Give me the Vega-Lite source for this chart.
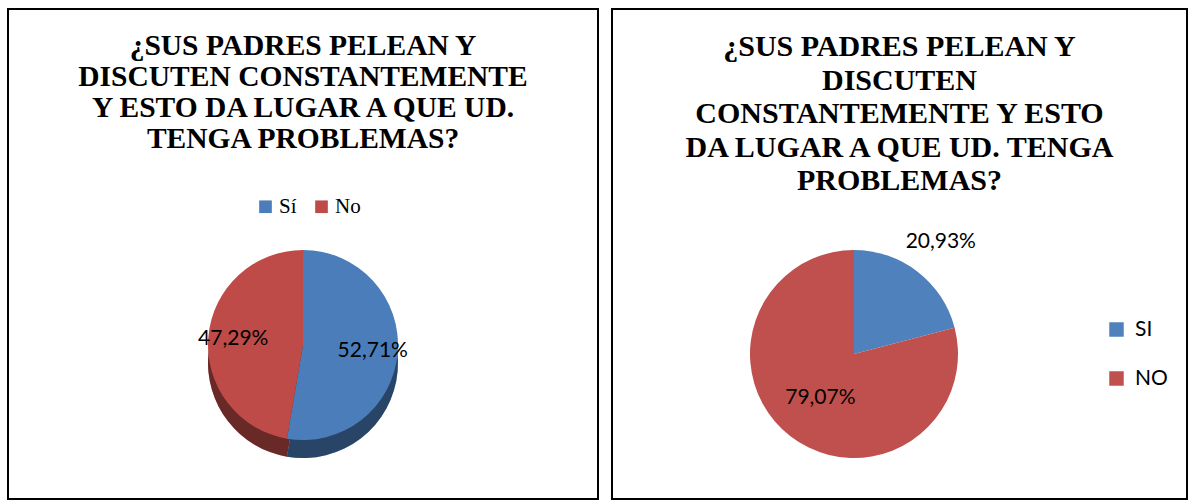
{
  "$schema": "https://vega.github.io/schema/vega-lite/v6.json",
  "background": "white",
  "padding": {"left": 7, "top": 8, "right": 0, "bottom": 0},
  "spacing": 12,
  "config": {
    "view": {"stroke": "black", "strokeWidth": 2},
    "title": {"font": "Liberation Serif", "fontWeight": "bold", "color": "black", "anchor": "middle", "frame": "group"}
  },
  "resolve": {"scale": {"color": "independent", "theta": "independent"}, "legend": {"color": "independent"}},
  "hconcat": [
    {
      "width": 590,
      "height": 490,
      "view": {"stroke": "black", "strokeWidth": 2},
      "title": {"text": ["¿SUS PADRES PELEAN Y", "DISCUTEN CONSTANTEMENTE", "Y ESTO DA LUGAR A QUE UD.", "TENGA PROBLEMAS?"], "fontSize": 29.5, "lineHeight": 31, "offset": -145},
      "data": {"values": [
        {"respuesta": "Sí", "porcentaje": 52.71, "etiqueta": "52,71%"},
        {"respuesta": "No", "porcentaje": 47.29, "etiqueta": "47,29%"}
      ]},
      "layer": [
        {
          "mark": {"type": "arc", "outerRadius": 95, "y": 354},
          "encoding": {
            "theta": {"field": "porcentaje", "type": "quantitative", "stack": true},
            "order": {"field": "porcentaje", "sort": "descending"},
            "color": {"field": "respuesta", "type": "nominal", "scale": {"domain": ["Sí", "No"], "range": ["#4A7DBA", "#BE4B48"]},
              "legend": {"orient": "none", "legendX": 247, "legendY": 187, "direction": "horizontal", "title": null, "symbolType": "square", "symbolSize": 160, "symbolStrokeWidth": 0, "labelFont": "Liberation Serif", "labelFontSize": 21, "labelColor": "black", "labelOffset": 3, "columnPadding": 14}}
          }
        },
        {
          "mark": {"type": "arc", "outerRadius": 95, "y": 354, "color": "black", "opacity": 0.45},
          "encoding": {
            "theta": {"field": "porcentaje", "type": "quantitative", "stack": true},
            "order": {"field": "porcentaje", "sort": "descending"},
            "detail": {"field": "respuesta", "type": "nominal"}
          }
        },
        {
          "mark": {"type": "arc", "outerRadius": 95, "y": 336},
          "encoding": {
            "theta": {"field": "porcentaje", "type": "quantitative", "stack": true},
            "order": {"field": "porcentaje", "sort": "descending"},
            "color": {"field": "respuesta", "type": "nominal", "scale": {"domain": ["Sí", "No"], "range": ["#4A7DBA", "#BE4B48"]},
              "legend": {"orient": "none", "legendX": 247, "legendY": 187, "direction": "horizontal", "title": null, "symbolType": "square", "symbolSize": 160, "symbolStrokeWidth": 0, "labelFont": "Liberation Serif", "labelFontSize": 21, "labelColor": "black", "labelOffset": 3, "columnPadding": 14}}
          }
        },
        {
          "mark": {"type": "text", "radius": 70, "y": 336, "font": "Lato", "fontSize": 21, "color": "black"},
          "encoding": {
            "theta": {"field": "porcentaje", "type": "quantitative", "stack": true},
            "order": {"field": "porcentaje", "sort": "descending"},
            "detail": {"field": "respuesta", "type": "nominal"},
            "text": {"field": "etiqueta", "type": "nominal"}
          }
        }
      ]
    },
    {
      "width": 575,
      "height": 490,
      "view": {"stroke": "black", "strokeWidth": 2},
      "title": {"text": ["¿SUS PADRES PELEAN Y", "DISCUTEN", "CONSTANTEMENTE Y ESTO", "DA LUGAR A QUE UD. TENGA", "PROBLEMAS?"], "fontSize": 30, "lineHeight": 33.5, "offset": -187},
      "data": {"values": [
        {"respuesta": "SI", "porcentaje": 20.93, "etiqueta": "20,93%"},
        {"respuesta": "NO", "porcentaje": 79.07, "etiqueta": "79,07%"}
      ]},
      "layer": [
        {
          "mark": {"type": "arc", "outerRadius": 104, "x": 242, "y": 345},
          "encoding": {
            "theta": {"field": "porcentaje", "type": "quantitative", "stack": true},
            "order": {"field": "porcentaje", "sort": "ascending"},
            "color": {"field": "respuesta", "type": "nominal", "scale": {"domain": ["SI", "NO"], "range": ["#4F81BD", "#C0504D"]},
              "legend": {"orient": "none", "legendX": 494, "legendY": 310, "direction": "vertical", "title": null, "symbolType": "square", "symbolSize": 210, "symbolStrokeWidth": 0, "labelFont": "Lato", "labelFontSize": 21, "labelColor": "black", "labelOffset": 8, "rowPadding": 27}}
          }
        },
        {
          "mark": {"type": "text", "x": 242, "y": 345, "font": "Lato", "fontSize": 21, "color": "black"},
          "encoding": {
            "theta": {"field": "porcentaje", "type": "quantitative", "stack": true},
            "order": {"field": "porcentaje", "sort": "ascending"},
            "detail": {"field": "respuesta", "type": "nominal"},
            "radius": {"field": "porcentaje", "type": "quantitative", "scale": {"type": "linear", "zero": false, "domain": [20.93, 79.07], "range": [142, 55]}},
            "text": {"field": "etiqueta", "type": "nominal"}
          }
        }
      ]
    }
  ]
}
